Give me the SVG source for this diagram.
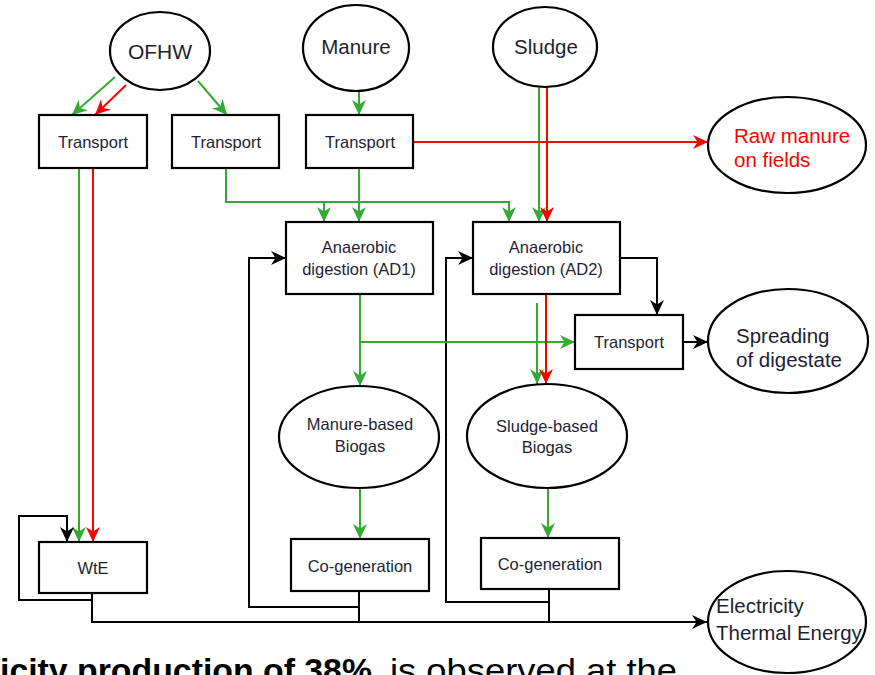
<svg xmlns="http://www.w3.org/2000/svg" width="875" height="675" viewBox="0 0 875 675">
<defs>
<style>
.n{fill:#fff;stroke:#000;stroke-width:2.2}
.t{font-family:"Liberation Sans",Arial,sans-serif;fill:#1e1e32;text-anchor:middle}
.s{font-size:16.5px}
.l{font-size:20.5px}
.g{stroke:#33AA33;stroke-width:2;fill:none}
.r{stroke:#FF0000;stroke-width:2;fill:none}
.k{stroke:#000;stroke-width:2;fill:none}
</style>
<marker id="ag" markerUnits="userSpaceOnUse" markerWidth="16" markerHeight="16" viewBox="0 0 16 16" refX="15" refY="8" orient="auto"><path d="M0,1 L15,8 L0,15 L4.5,8 z" fill="#33AA33"/></marker>
<marker id="ar" markerUnits="userSpaceOnUse" markerWidth="16" markerHeight="16" viewBox="0 0 16 16" refX="15" refY="8" orient="auto"><path d="M0,1 L15,8 L0,15 L4.5,8 z" fill="#FF0000"/></marker>
<marker id="ak" markerUnits="userSpaceOnUse" markerWidth="16" markerHeight="16" viewBox="0 0 16 16" refX="15" refY="8" orient="auto"><path d="M0,1 L15,8 L0,15 L4.5,8 z" fill="#000"/></marker>
</defs>
<rect width="875" height="675" fill="#fff"/>

<g id="connectors">
<path class="g" d="M115,77 L72,115" marker-end="url(#ag)"/>
<path class="r" d="M126,85 L95,115" marker-end="url(#ar)"/>
<path class="g" d="M198,81 L227,115" marker-end="url(#ag)"/>
<path class="g" d="M359,92 V115" marker-end="url(#ag)"/>
<path class="g" d="M359,168 V222" marker-end="url(#ag)"/>
<path class="g" d="M226,168 V202 H509 V222" marker-end="url(#ag)"/>
<path class="g" d="M324,202 V222" marker-end="url(#ag)"/>
<path class="g" d="M539,87 V222" marker-end="url(#ag)"/>
<path class="r" d="M547,87 V222" marker-end="url(#ar)"/>
<path class="r" d="M413,142 H708" marker-end="url(#ar)"/>
<path class="g" d="M79,168 V542" marker-end="url(#ag)"/>
<path class="r" d="M93,168 V542" marker-end="url(#ar)"/>
<path class="k" d="M92,593 V600 H19 V516 H67 V542" marker-end="url(#ak)"/>
<path class="k" d="M92,593 V622 H707" marker-end="url(#ak)"/>
<path class="k" d="M359,591 V622"/>
<path class="k" d="M359,607 H249 V258 H286" marker-end="url(#ak)"/>
<path class="k" d="M549,589 V622"/>
<path class="k" d="M549,602 H446 V258 H473" marker-end="url(#ak)"/>
<path class="g" d="M360,294 V386" marker-end="url(#ag)"/>
<path class="g" d="M360,342 H575" marker-end="url(#ag)"/>
<path class="g" d="M537,303 V384" marker-end="url(#ag)"/>
<path class="r" d="M546,294 V384" marker-end="url(#ar)"/>
<path class="k" d="M620,258 H657 V315" marker-end="url(#ak)"/>
<path class="k" d="M683,342 H708" marker-end="url(#ak)"/>
<path class="g" d="M360,488 V539" marker-end="url(#ag)"/>
<path class="g" d="M548,489 V538" marker-end="url(#ag)"/>
</g>

<g id="ofhw"><ellipse class="n" cx="160" cy="51" rx="50" ry="39"/><text class="t" x="160" y="59" font-size="21">OFHW</text></g>
<g id="manure"><ellipse class="n" cx="356" cy="48" rx="53" ry="43"/><text class="t l" x="356" y="54">Manure</text></g>
<g id="sludge"><ellipse class="n" cx="545" cy="47" rx="52" ry="40"/><text class="t l" x="546" y="54">Sludge</text></g>
<g id="transport1"><rect class="n" x="39" y="115" width="108" height="53"/><text class="t s" x="93" y="148">Transport</text></g>
<g id="transport2"><rect class="n" x="172" y="115" width="107" height="53"/><text class="t s" x="226" y="148">Transport</text></g>
<g id="transport3"><rect class="n" x="306" y="115" width="107" height="53"/><text class="t s" x="360" y="148">Transport</text></g>
<g id="raw-manure"><ellipse class="n" cx="787" cy="145" rx="79" ry="48"/><text class="t l" x="734" y="143" style="text-anchor:start;fill:#FF0000">Raw manure</text><text class="t l" x="734" y="167" style="text-anchor:start;fill:#FF0000">on fields</text></g>
<g id="ad1"><rect class="n" x="286" y="222" width="147" height="72"/><text class="t s" x="359" y="253">Anaerobic</text><text class="t s" x="359" y="275">digestion (AD1)</text></g>
<g id="ad2"><rect class="n" x="473" y="222" width="147" height="72"/><text class="t s" x="546" y="253">Anaerobic</text><text class="t s" x="546" y="275">digestion (AD2)</text></g>
<g id="transport4"><rect class="n" x="575" y="315" width="108" height="54"/><text class="t s" x="629" y="348">Transport</text></g>
<g id="spreading"><ellipse class="n" cx="788" cy="341" rx="80" ry="52"/><text class="t l" x="736" y="343" style="text-anchor:start">Spreading</text><text class="t l" x="736" y="367" style="text-anchor:start">of digestate</text></g>
<g id="manure-biogas"><ellipse class="n" cx="359" cy="437" rx="80" ry="51"/><text class="t s" x="360" y="430">Manure-based</text><text class="t s" x="360" y="452">Biogas</text></g>
<g id="sludge-biogas"><ellipse class="n" cx="547" cy="436" rx="80" ry="52"/><text class="t s" x="547" y="432">Sludge-based</text><text class="t s" x="547" y="453">Biogas</text></g>
<g id="wte"><rect class="n" x="39" y="542" width="108" height="51"/><text class="t s" x="93" y="574">WtE</text></g>
<g id="cogen1"><rect class="n" x="291" y="539" width="138" height="52"/><text class="t s" x="360" y="572">Co-generation</text></g>
<g id="cogen2"><rect class="n" x="481" y="538" width="138" height="51"/><text class="t s" x="550" y="570">Co-generation</text></g>
<g id="electricity"><ellipse class="n" cx="787" cy="622" rx="79" ry="51"/><text class="t l" x="716" y="613" style="text-anchor:start">Electricity</text><text class="t l" x="716" y="640" style="text-anchor:start">Thermal Energy</text></g>

<text x="0" y="682" font-family="'Liberation Sans',Arial,sans-serif" font-size="33" font-weight="bold" fill="#000" textLength="372" lengthAdjust="spacingAndGlyphs">icity production of 38%</text>
<text x="390" y="682" font-family="'Liberation Sans',Arial,sans-serif" font-size="33" fill="#000" textLength="287" lengthAdjust="spacingAndGlyphs">is observed at the</text>
</svg>
